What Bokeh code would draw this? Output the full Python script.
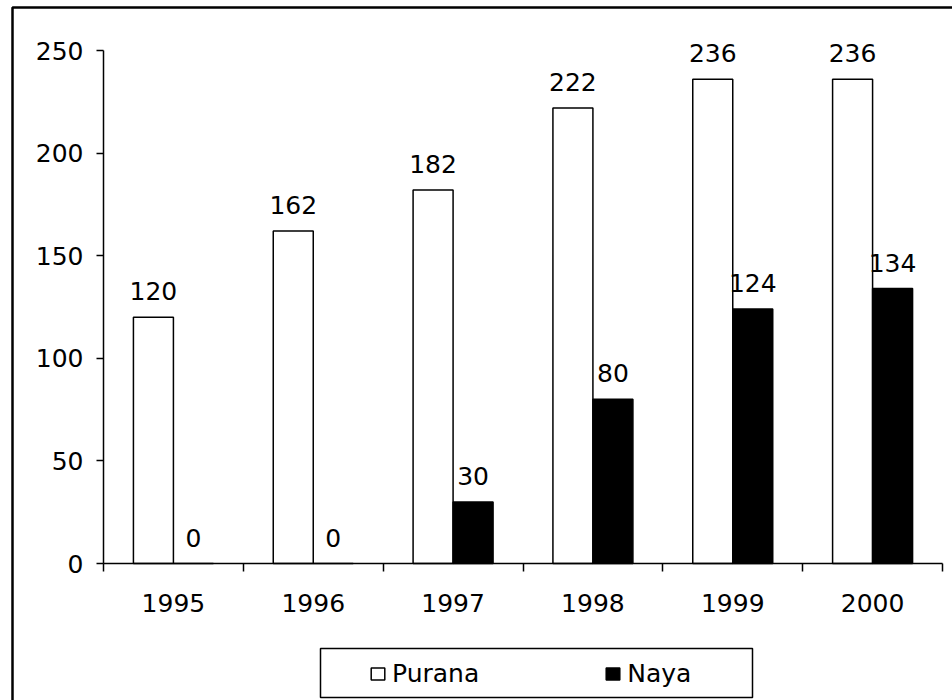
from bokeh.plotting import figure
from bokeh.models import (ColumnDataSource, Range1d, FixedTicker, LinearAxis, LabelSet,
                          Legend, LegendItem, BoxAnnotation)
from bokeh.transform import dodge
from bokeh.embed import file_html
from bokeh.resources import INLINE
from bokeh.core.properties import value

# ---- data ----
years = ["1995", "1996", "1997", "1998", "1999", "2000"]
purana = [120, 162, 182, 222, 236, 236]
naya = [0, 0, 30, 80, 124, 134]
y_ticks = [0, 50, 100, 150, 200, 250]
series_names = ["Purana", "Naya"]

FONT = "DejaVu Sans"
FS = "25px"
n = len(years)
centers = [i + 0.5 for i in range(n)]
boundaries = list(range(n + 1))
y_max = y_ticks[-1]

source = ColumnDataSource(dict(
    x=centers, year=years, purana=purana, naya=naya,
    purana_lbl=[str(v) for v in purana], naya_lbl=[str(v) for v in naya],
))

# canvas geometry (pixels): plot area 103..942 horizontally, 563 (0) .. 50 (250) vertically
W_PX, H_PX = 952, 700
X0, X1 = 103, 942
Y0, Y1 = 563, 50
xs = (X1 - X0) / n
ys = (Y0 - Y1) / y_max
x_range = Range1d(-X0 / xs, n + (W_PX - X1) / xs)
y_range = Range1d(-(H_PX - Y0) / ys, y_max + Y1 / ys)

p = figure(width=W_PX, height=H_PX, output_backend="svg", toolbar_location=None,
           x_range=x_range, y_range=y_range, x_axis_type=None, y_axis_type=None,
           min_border=0)
p.outline_line_color = None
p.background_fill_color = "white"
p.border_fill_color = "white"

OFF = 0.143
W = 0.286
r1 = p.vbar(x=dodge("x", -OFF), top="purana", width=W, bottom=0, source=source,
            fill_color="white", line_color="black", line_width=1.5)
r2 = p.vbar(x=dodge("x", OFF), top="naya", width=W, bottom=0, source=source,
            fill_color="black", line_color="black", line_width=1.5)

for col, off in (("purana", -OFF), ("naya", OFF)):
    p.add_layout(LabelSet(x=dodge("x", off), y=col, text=col + "_lbl", source=source,
                          text_align="center", text_baseline="alphabetic", y_offset=17,
                          text_font=value(FONT), text_font_size=value(FS), text_color="black"))

yaxis = LinearAxis(ticker=FixedTicker(ticks=y_ticks), fixed_location=0, bounds=(0, y_max),
                   major_tick_out=7, major_tick_in=0, minor_tick_out=0, minor_tick_in=0,
                   axis_line_width=1.5, major_tick_line_width=1.5,
                   major_label_text_font=FONT, major_label_text_font_size=FS,
                   major_label_text_color="black", major_label_standoff=13)
p.add_layout(yaxis, "left")

xaxis = LinearAxis(ticker=FixedTicker(ticks=centers, minor_ticks=boundaries),
                   fixed_location=0, bounds=(0, n),
                   major_label_overrides={c: y for c, y in zip(centers, years)},
                   major_tick_out=0, major_tick_in=0, minor_tick_out=8, minor_tick_in=0,
                   axis_line_width=1.5, minor_tick_line_width=1.5,
                   major_label_text_font=FONT, major_label_text_font_size=FS,
                   major_label_text_color="black", major_label_standoff=22)
p.add_layout(xaxis, "below")

legend = Legend(items=[LegendItem(label=series_names[0], renderers=[r1]),
                       LegendItem(label=series_names[1], renderers=[r2])],
                orientation="horizontal", location=(369, 12), padding=0, spacing=125,
                glyph_width=17, glyph_height=15, label_standoff=6,
                border_line_alpha=0, background_fill_alpha=0,
                label_text_font=FONT, label_text_font_size=FS, label_text_color="black")
p.add_layout(legend, "center")

# outer chart border and legend box (screen units, measured from the frame's bottom-left;
# the frame fills the whole canvas)
p.add_layout(BoxAnnotation(left=12, right=1200, top=H_PX - 7, bottom=-500,
                           left_units="screen", right_units="screen",
                           top_units="screen", bottom_units="screen",
                           fill_alpha=0, line_color="black", line_alpha=1.0,
                           line_width=2.5, level="overlay"))
p.add_layout(BoxAnnotation(left=320, right=752, top=H_PX - 648, bottom=H_PX - 697,
                           left_units="screen", right_units="screen",
                           top_units="screen", bottom_units="screen",
                           fill_alpha=0, line_color="black", line_alpha=1.0,
                           line_width=1.5, level="overlay"))

open("out.html", "w").write(file_html(p, INLINE))
